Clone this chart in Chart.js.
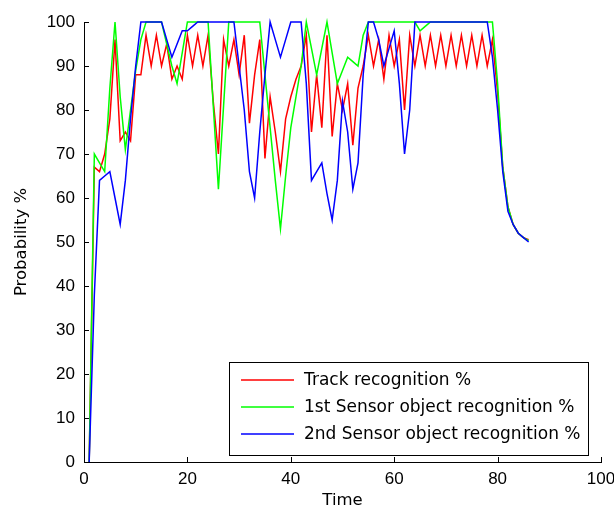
<!DOCTYPE html>
<html>
<head>
<meta charset="utf-8">
<script src="https://cdn.jsdelivr.net/npm/chart.js@4.4.1/dist/chart.umd.min.js"></script>
<style>
  html, body { margin: 0; padding: 0; background: #ffffff; }
  #wrap { width: 614px; height: 518px; }
</style>
</head>
<body>
<div id="wrap"><canvas id="c" width="614" height="518"></canvas></div>
<script>
// ---- data ----
const times = [1,2,3,4,5,6,7,8,9,10,11,12,13,14,15,16,17,18,19,20,21,22,23,24,25,26,27,28,29,30,
  31,32,33,34,35,36,37,38,39,40,41,42,43,44,45,46,47,48,49,50,51,52,53,54,55,56,57,58,59,60,
  61,62,63,64,65,66,67,68,69,70,71,72,73,74,75,76,77,78,79,80,81,82,83,84,85,86];

const trackRecognition = [0,67,66,70,78,96,73,75,73,88,88,97,90,97,90,95,87,90,87,97,90,97,90,97,82,70,96,90,96,88,
  97,77,88,96,69,83,75,66,78,83,87,90,97,75,88,76,97,74,86,80,86,72,85,90,97,90,96,87,97,90,
  96,80,97,90,97,90,97,90,97,90,97,90,97,90,97,90,97,90,96,84,67,58,54,52,51,50.5];

const sensor1Recognition = [0,70,68,66,85,100,83,71,80,89,96,100,100,100,100,95,90,86,93,100,100,100,100,100,81,62,81,100,100,100,
  100,100,100,100,88,76,64,53,65,76,83,90,100,94,88,94,100,93,86,89,92,91,90,97,100,100,100,100,100,100,
  100,100,100,100,98,99,100,100,100,100,100,100,100,100,100,100,100,100,100,86,67,58,54,52,51,50.3];

const sensor2Recognition = [0,38,64,65,66,60,54,64,78,90,100,100,100,100,100,96,92,95,98,98,99,100,100,100,100,100,100,100,100,90,
  80,66,60,75,88,100,96,92,96,100,100,100,86,64,66,68,61,55,64,82,75,62,68,88,100,100,96,90,94,98,
  86,70,80,100,100,100,100,100,100,100,100,100,100,100,100,100,100,100,92,80,66,57,54,52,51,50];

const seriesLabels = ['Track recognition %', '1st Sensor object recognition %', '2nd Sensor object recognition %'];
const seriesColors = ['#ff0000', '#00ff00', '#0000ff'];
const xTicks = [0, 20, 40, 60, 80, 100];
const yTicks = [0, 10, 20, 30, 40, 50, 60, 70, 80, 90, 100];

const TICK_FONT = 'Liberation Sans, Arial, Helvetica, sans-serif';
const TEXT_FONT = 'DejaVu Sans, Verdana, sans-serif';
const FSIZE = 17;

function pts(vals) { return vals.map((v, i) => ({ x: times[i], y: v })); }

const seriesValues = [trackRecognition, sensor1Recognition, sensor2Recognition];

const datasets = seriesValues.map((vals, i) => ({
  label: seriesLabels[i],
  data: pts(vals),
  borderColor: seriesColors[i],
  backgroundColor: seriesColors[i],
  borderWidth: 1.5,
  pointRadius: 0,
  tension: 0,
  fill: false,
  clip: 6,
  order: 2 - i
}));

// inward tick marks (MATLAB style, box off)
const inwardTicks = {
  id: 'inwardTicks',
  afterDatasetsDraw(chart) {
    const ctx = chart.ctx, xs = chart.scales.x, ys = chart.scales.y;
    const a = chart.chartArea;
    ctx.save();
    ctx.strokeStyle = '#000';
    ctx.lineWidth = 1;
    ctx.beginPath();
    xTicks.forEach(v => {
      const px = Math.round(xs.getPixelForValue(v)) + 0.5;
      ctx.moveTo(px, a.bottom);
      ctx.lineTo(px, a.bottom - 5);
    });
    yTicks.forEach(v => {
      const py = Math.round(ys.getPixelForValue(v)) + 0.5;
      ctx.moveTo(a.left, py);
      ctx.lineTo(a.left + 5, py);
    });
    ctx.stroke();
    ctx.restore();
  }
};

// legend box inside the plot, lower right
const boxLegend = {
  id: 'boxLegend',
  afterDraw(chart) {
    const ctx = chart.ctx, a = chart.chartArea;
    ctx.save();
    ctx.font = '17px ' + TEXT_FONT;
    const dsets = chart.data.datasets;
    let maxW = 0;
    dsets.forEach(d => { maxW = Math.max(maxW, ctx.measureText(d.label).width); });
    const rowH = 27;
    const boxW = Math.round(75 + maxW + 8);
    const boxH = rowH * dsets.length + 12;
    const right = Math.round(a.right) - 13;
    const bottom = Math.round(a.bottom) - 7;
    const left = right - boxW, top = bottom - boxH;
    ctx.fillStyle = '#fff';
    ctx.fillRect(left, top, boxW, boxH);
    ctx.strokeStyle = '#000';
    ctx.lineWidth = 1;
    ctx.strokeRect(left + 0.5, top + 0.5, boxW, boxH);
    dsets.forEach((d, i) => {
      const y = top + 18 + i * rowH;
      ctx.strokeStyle = d.borderColor;
      ctx.lineWidth = 1.5;
      ctx.beginPath();
      ctx.moveTo(left + 12, y);
      ctx.lineTo(left + 65, y);
      ctx.stroke();
      ctx.fillStyle = '#000';
      ctx.textBaseline = 'middle';
      ctx.textAlign = 'left';
      ctx.fillText(d.label, left + 75, y + 1);
    });
    ctx.restore();
  }
};

Chart.defaults.font.family = TICK_FONT;
Chart.defaults.font.size = FSIZE;
Chart.defaults.color = '#000';

new Chart(document.getElementById('c'), {
  type: 'line',
  data: { datasets },
  options: {
    responsive: false,
    devicePixelRatio: 1,
    animation: false,
    events: [],
    layout: { padding: { left: 0, right: 13, top: 22, bottom: 0 } },
    plugins: { legend: { display: false }, tooltip: { enabled: false } },
    scales: {
      x: {
        type: 'linear',
        min: 0, max: 100,
        afterFit(s) { s.height = 56; s.paddingLeft = 0; s.paddingRight = 0; },
        afterBuildTicks(s) { s.ticks = xTicks.map(v => ({ value: v })); },
        grid: { display: false, drawTicks: false },
        border: { display: true, color: '#000', width: 1 },
        ticks: { padding: 7, maxRotation: 0, autoSkip: false, font: { size: FSIZE, family: TICK_FONT } },
        title: { display: true, text: 'Time', padding: { top: 7, bottom: 7 }, font: { size: 16.5, family: TEXT_FONT } }
      },
      y: {
        type: 'linear',
        min: 0, max: 100,
        afterFit(s) { s.width = 84; s.paddingTop = 0; s.paddingBottom = 0; },
        afterBuildTicks(s) { s.ticks = yTicks.map(v => ({ value: v })); },
        grid: { display: false, drawTicks: false },
        border: { display: true, color: '#000', width: 1 },
        ticks: { padding: 9, autoSkip: false, font: { size: FSIZE, family: TICK_FONT } },
        title: { display: true, text: 'Probability %', padding: { top: 12, bottom: 0 }, font: { size: 16.5, family: TEXT_FONT } }
      }
    }
  },
  plugins: [inwardTicks, boxLegend]
});
</script>
</body>
</html>
